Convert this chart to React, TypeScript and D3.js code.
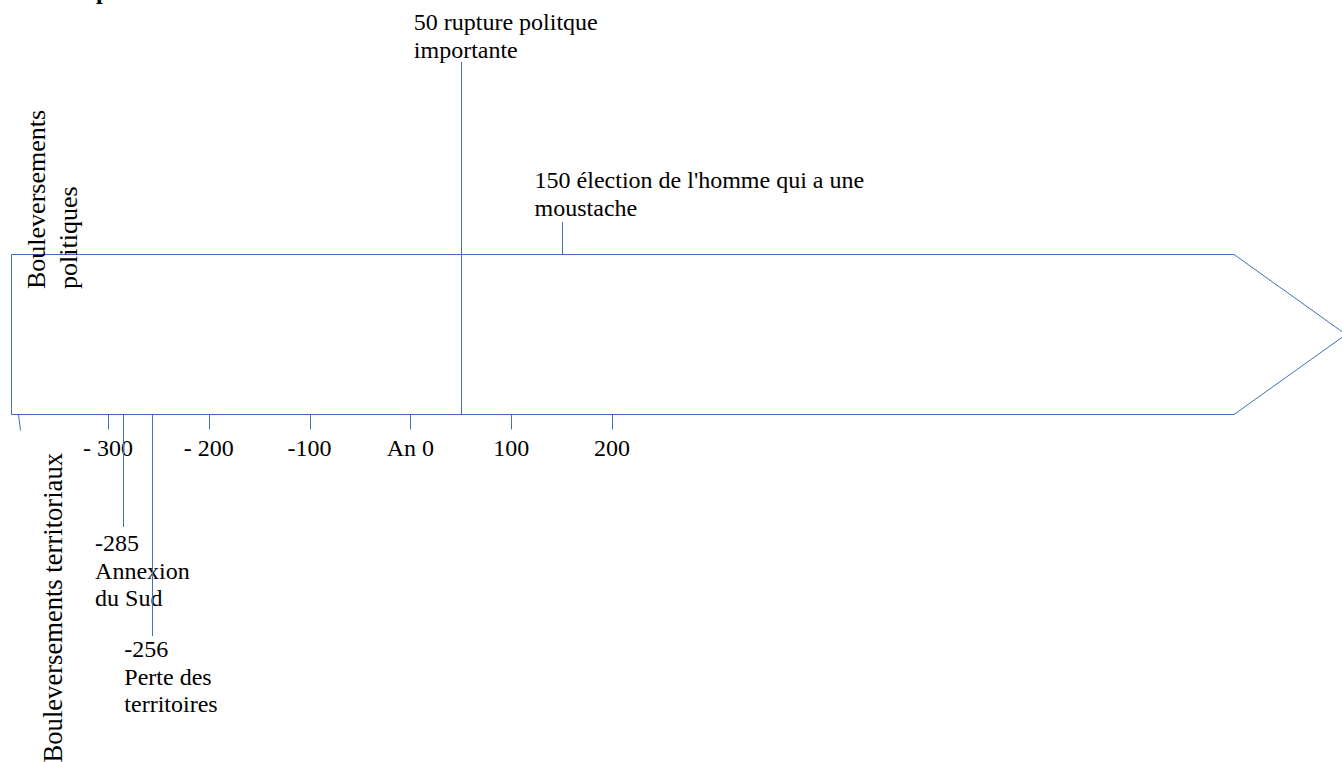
import * as d3 from 'd3'
import React from 'react'

// tick values + labels along the timeline
const tickYears = [-300, -200, -100, 0, 100, 200]
const tickLabels = ['- 300', '- 200', '-100', 'An 0', '100', '200']

// events
const eventYears = [50, 150, -285, -256]
const eventTexts = [
  ['50 rupture politque', 'importante'],
  ["150 élection de l'homme qui a une", 'moustache'],
  ['-285', 'Annexion', 'du Sud'],
  ['-256', 'Perte des', 'territoires'],
]

const bandLabelsTop = ['Bouleversements', 'politiques']
const bandLabelBottom = 'Bouleversements territoriaux'

const W = 1342
const H = 762
const blue = '#3f6fbf'
const font = "'Liberation Serif', 'Times New Roman', serif"

const App = () => {
  const x = d3.scaleLinear().domain([-300, 200]).range([108, 612])
  const px = (v: number) => Math.round(x(v)) + 0.5

  const box = { left: 11.5, right: 1234, top: 254.5, bottom: 414.5, tip: 1346 }
  const mid = (box.top + box.bottom) / 2
  const arrow = d3.line()([
    [box.left, box.top],
    [box.right, box.top],
    [box.tip, mid],
    [box.right, box.bottom],
    [box.left, box.bottom],
  ]) + 'Z'

  const lh = 27.5
  // layout per event: label offset, first baseline, line start/end
  const layout = [
    { dx: -47, y0: 30, y1: 62, y2: box.bottom },
    { dx: -27, y0: 188, y1: 222, y2: box.top },
    { dx: -28, y0: 551, y1: box.bottom, y2: 527 },
    { dx: -28, y0: 657, y1: box.bottom, y2: 636 },
  ]

  return (
    <svg
      width={W}
      height={H}
      style={{ position: 'absolute', left: 0, top: 0, background: '#fff' }}
      fontFamily={font}
    >
      {/* partially visible title */}
      <text x={96} y={-1} fontSize={24} fontWeight="bold" fill="#000">p</text>

      <path d={arrow} fill="none" stroke={blue} strokeWidth={1} />

      {/* start mark */}
      <line x1={box.left + 7} y1={box.bottom} x2={box.left + 9} y2={box.bottom + 16} stroke={blue} />

      {tickYears.map((v, i) => (
        <g key={v}>
          <line x1={px(v)} x2={px(v)} y1={box.bottom} y2={box.bottom + 15} stroke={blue} />
          <text x={x(v)} y={456} fontSize={24} textAnchor="middle" fill="#000">
            {tickLabels[i]}
          </text>
        </g>
      ))}

      {eventYears.map((v, i) => {
        const l = layout[i]
        return (
          <g key={v}>
            <line x1={px(v)} x2={px(v)} y1={l.y1} y2={l.y2} stroke={blue} />
            <text x={x(v) + l.dx} y={l.y0} fontSize={24} fill="#000">
              {eventTexts[i].map((t, j) => (
                <tspan key={j} x={x(v) + l.dx} y={l.y0 + j * lh}>{t}</tspan>
              ))}
            </text>
          </g>
        )
      })}

      {bandLabelsTop.map((t, j) => (
        <text
          key={t}
          transform={`translate(${45 + j * 32},289) rotate(-90)`}
          fontSize={26}
          fill="#000"
        >
          {t}
        </text>
      ))}
      <text transform="translate(62,453) rotate(-90)" fontSize={26.6} textAnchor="end" fill="#000">
        {bandLabelBottom}
      </text>
    </svg>
  )
}

export default App
